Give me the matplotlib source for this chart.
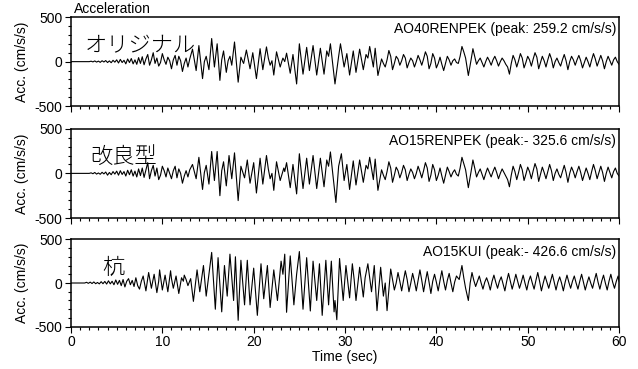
import matplotlib
matplotlib.use("Agg")
from matplotlib import pyplot as plt
from matplotlib.ticker import MultipleLocator

plt.rcParams['font.family'] = ['Liberation Sans', 'DejaVu Sans']

# Turning points of each record: (time s, acceleration cm/s/s)
orig_pts = [
    (0, 0), (2.0, 0), (2.2, 5), (2.4, -3), (2.6, 8), (2.8, -5), (3.0, 6), (3.2, -8), (3.4, 10),
    (3.6, -4), (3.8, 12), (4.0, -10), (4.2, 8), (4.4, -12), (4.6, 15), (4.8, -6), (5.0, 20),
    (5.2, -15), (5.4, 25), (5.6, -10), (5.8, 15), (6.0, -25), (6.2, 30), (6.4, -10), (6.6, 35),
    (6.8, -25), (7.0, 20), (7.2, -30), (7.4, 45), (7.6, -20), (7.8, 55), (8.0, -35), (8.2, 30),
    (8.4, 80), (8.6, -40), (8.8, 20), (9.0, 100), (9.2, -20), (9.4, 40), (9.6, -50), (9.8, -10),
    (10.0, 90), (10.2, 20), (10.4, -30), (10.6, 50), (10.8, 10), (11.0, -80), (11.2, 20),
    (11.4, 70), (11.6, -40), (11.8, 60), (12.0, 10), (12.2, -110), (12.4, -20), (12.6, 40),
    (12.8, -60), (13.0, 30), (13.3, 140), (13.7, -100), (14.0, 180), (14.4, -190), (14.6, 0),
    (14.8, 60), (15.1, -90), (15.4, 259), (15.7, -60), (16.0, 200), (16.3, -210), (16.5, 20),
    (16.7, 120), (17.0, -120), (17.2, 10), (17.4, 60), (17.6, -40), (17.9, 220), (18.3, -230),
    (18.6, 50), (18.8, 0), (18.9, -20), (19.2, 130), (19.6, -80), (19.9, 100), (20.3, -190),
    (20.7, 145), (21.0, -90), (21.4, 165), (21.6, 40), (21.8, -40), (22.0, 10), (22.2, -150),
    (22.5, 110), (22.9, -60), (23.1, 10), (23.2, 40), (23.4, 0), (23.6, 95), (24.0, -130),
    (24.3, 80), (24.7, -250), (25.0, 200), (25.4, -140), (25.8, 160), (26.1, -100), (26.5, 180),
    (26.9, -150), (27.3, 150), (27.7, -140), (28.0, 120), (28.2, 60), (28.4, 200), (28.9, -250),
    (29.3, 60), (29.5, 200), (29.9, -60), (30.2, 90), (30.5, -150), (30.9, 120), (31.2, -120),
    (31.6, 140), (32.0, -90), (32.3, 80), (32.5, 40), (32.7, 170), (33.1, -60), (33.3, 150),
    (33.6, -155), (34.0, 30), (34.2, -20), (34.4, -60), (34.6, 20), (34.8, 125), (35.0, 60),
    (35.2, -90), (35.4, -20), (35.6, 60), (35.8, 30), (36.0, -40), (36.2, 10), (36.4, 80),
    (36.6, 40), (36.8, -70), (37.0, -10), (37.2, 40), (37.4, 10), (37.6, -60), (37.8, 0),
    (38.0, 70), (38.2, 20), (38.4, -40), (38.6, 30), (38.8, 110), (39.0, 60), (39.2, -80),
    (39.4, -20), (39.6, 90), (39.8, 40), (40.0, -70), (40.2, -20), (40.4, 50), (40.6, -30),
    (40.8, -100), (41.0, -20), (41.2, 60), (41.4, 20), (41.6, -40), (41.8, 10), (42.0, 30),
    (42.2, -10), (42.4, -20), (42.6, 60), (42.8, 170), (43.0, 110), (43.2, 40), (43.5, -155),
    (43.8, 20), (44.0, 145), (44.2, 60), (44.4, -30), (44.6, 10), (44.8, 40), (45.0, -10),
    (45.2, -60), (45.4, 0), (45.6, 50), (45.8, 10), (46.0, -40), (46.2, 20), (46.4, 60),
    (46.6, 10), (46.8, -50), (47.0, 0), (47.2, 40), (47.4, 10), (47.6, -30), (47.8, -60),
    (48.0, -140), (48.2, -20), (48.4, 70), (48.6, 20), (48.8, -60), (49.0, 10), (49.2, 90),
    (49.4, 40), (49.6, -70), (49.8, -10), (50.0, 60), (50.2, 20), (50.4, -50), (50.6, 30),
    (50.8, 100), (51.0, 50), (51.2, -80), (51.4, -10), (51.6, 60), (51.8, 10), (52.0, -60),
    (52.2, 20), (52.4, 90), (52.6, 30), (52.8, -70), (53.0, 0), (53.2, 40), (53.4, -10),
    (53.6, -50), (53.8, 20), (54.0, 80), (54.2, 10), (54.4, -90), (54.6, 0), (54.8, 60),
    (55.0, 20), (55.2, -40), (55.4, 20), (55.6, 70), (55.8, 10), (56.0, -70), (56.2, -10),
    (56.4, 50), (56.6, 0), (56.8, -60), (57.0, 20), (57.2, 90), (57.4, 30), (57.6, -50),
    (57.8, 10), (58.0, 70), (58.2, 10), (58.4, -80), (58.6, 0), (58.8, 60), (59.0, 10),
    (59.2, -40), (59.4, 20), (59.6, 50), (59.8, 0), (60.0, -30)]

impr_pts = [
    (0, 0), (2.0, 0), (2.2, 6), (2.4, -4), (2.6, 10), (2.8, -8), (3.0, 5), (3.2, -10), (3.4, 12),
    (3.6, -6), (3.8, 15), (4.0, -20), (4.2, 10), (4.4, -15), (4.6, 20), (4.8, -8), (5.0, 25),
    (5.2, -20), (5.4, 30), (5.6, -12), (5.8, 20), (6.0, -30), (6.2, 35), (6.4, -15), (6.6, 40),
    (6.8, -30), (7.0, 25), (7.2, -40), (7.4, 50), (7.6, -25), (7.8, 60), (8.0, -45), (8.2, 40),
    (8.4, 120), (8.6, -60), (8.8, 30), (9.0, 90), (9.2, -30), (9.4, 60), (9.6, -70), (9.8, -20),
    (10.0, 80), (10.2, 30), (10.4, -40), (10.6, 60), (10.8, 0), (11.0, -60), (11.2, 30),
    (11.4, 80), (11.6, -50), (11.8, 50), (12.0, 0), (12.2, -110), (12.4, -30), (12.6, 30),
    (12.8, -40), (13.0, 40), (13.3, 100), (13.7, -60), (14.0, 180), (14.4, -180), (14.6, 10),
    (14.8, 90), (15.1, -120), (15.4, 245), (15.7, -80), (16.0, 245), (16.3, -250), (16.5, 30),
    (16.7, 130), (17.0, -140), (17.3, 200), (17.6, -60), (17.9, 230), (18.3, -305), (18.6, 80),
    (19.0, -50), (19.3, 150), (19.6, -110), (20.0, 120), (20.3, -220), (20.7, 170), (21.0, -120),
    (21.4, 200), (21.6, 50), (21.8, -60), (22.0, 0), (22.2, -190), (22.5, 130), (22.9, -80),
    (23.3, 60), (23.4, 20), (23.6, 120), (24.0, -160), (24.3, 100), (24.7, -230), (25.0, 220),
    (25.4, -170), (25.8, 170), (26.1, -120), (26.5, 200), (26.9, -170), (27.3, 170), (27.7, -150),
    (28.0, 150), (28.2, 80), (28.4, 240), (29.0, -326), (29.3, 80), (29.6, 220), (29.9, -80),
    (30.2, 100), (30.5, -180), (30.9, 140), (31.2, -130), (31.6, 150), (32.0, -100), (32.3, 90),
    (32.5, 50), (32.7, 180), (33.1, -70), (33.3, 160), (33.6, -190), (34.0, 40), (34.2, -20),
    (34.4, -70), (34.6, 20), (34.8, 130), (35.0, 60), (35.2, -100), (35.4, -20), (35.6, 70),
    (35.8, 30), (36.0, -50), (36.2, 10), (36.4, 90), (36.6, 40), (36.8, -80), (37.0, -10),
    (37.2, 50), (37.4, 10), (37.6, -60), (37.8, 0), (38.0, 80), (38.2, 20), (38.4, -50),
    (38.6, 30), (38.8, 120), (39.0, 60), (39.2, -90), (39.4, -20), (39.6, 100), (39.8, 40),
    (40.0, -80), (40.2, -20), (40.4, 60), (40.6, -30), (40.8, -110), (41.0, -20), (41.2, 70),
    (41.4, 20), (41.6, -40), (41.8, 10), (42.0, 40), (42.2, -10), (42.4, -30), (42.6, 60),
    (42.8, 180), (43.0, 110), (43.2, 40), (43.5, -160), (43.8, 20), (44.0, 150), (44.2, 60),
    (44.4, -40), (44.6, 10), (44.8, 50), (45.0, -10), (45.2, -70), (45.4, 0), (45.6, 60),
    (45.8, 10), (46.0, -40), (46.2, 20), (46.4, 70), (46.6, 10), (46.8, -60), (47.0, 0),
    (47.2, 50), (47.4, 10), (47.6, -30), (47.8, -70), (48.0, -150), (48.2, -20), (48.4, 80),
    (48.6, 20), (48.8, -70), (49.0, 10), (49.2, 100), (49.4, 40), (49.6, -80), (49.8, -10),
    (50.0, 70), (50.2, 20), (50.4, -60), (50.6, 30), (50.8, 110), (51.0, 50), (51.2, -90),
    (51.4, -10), (51.6, 70), (51.8, 10), (52.0, -60), (52.2, 20), (52.4, 100), (52.6, 30),
    (52.8, -80), (53.0, 0), (53.2, 50), (53.4, -10), (53.6, -50), (53.8, 20), (54.0, 90),
    (54.2, 10), (54.4, -100), (54.6, 0), (54.8, 70), (55.0, 20), (55.2, -50), (55.4, 20),
    (55.6, 80), (55.8, 10), (56.0, -80), (56.2, -10), (56.4, 60), (56.6, 0), (56.8, -70),
    (57.0, 20), (57.2, 100), (57.4, 30), (57.6, -60), (57.8, 10), (58.0, 80), (58.2, 10),
    (58.4, -90), (58.6, 0), (58.8, 70), (59.0, 10), (59.2, -50), (59.4, 20), (59.6, 60),
    (59.8, 0), (60.0, -30)]

pile_pts = [
    (0, 0), (1.5, 0), (1.7, 8), (1.9, -4), (2.1, 10), (2.3, -6), (2.5, 12), (2.7, -8), (2.9, 6),
    (3.1, -10), (3.3, 15), (3.5, -8), (3.7, 18), (3.9, -12), (4.1, 25), (4.3, -10), (4.5, 20),
    (4.7, -20), (4.9, 35), (5.1, -15), (5.3, 30), (5.5, -30), (5.7, 40), (5.9, -45), (6.1, 20),
    (6.3, 50), (6.5, -20), (6.7, 30), (6.9, -40), (7.1, 60), (7.3, -30), (7.5, -70), (7.7, 20),
    (7.9, 80), (8.1, -30), (8.2, -90), (8.5, 120), (8.7, 0), (8.8, -60), (9.1, 100), (9.4, -110),
    (9.6, 20), (9.7, 150), (10.0, -80), (10.2, 30), (10.3, 90), (10.6, -100), (10.9, 140),
    (11.0, 50), (11.2, -60), (11.5, 80), (11.8, -120), (12.1, 60), (12.3, 20), (12.4, 90),
    (12.6, 40), (12.8, -30), (13.1, 50), (13.4, -210), (13.8, 150), (14.1, -100), (14.5, 200),
    (14.8, -150), (15.1, 100), (15.4, 350), (15.8, -300), (16.1, 290), (16.5, -330), (16.8, 200),
    (17.1, -150), (17.4, 330), (17.8, -200), (18.0, 300), (18.3, -427), (18.6, 260),
    (19.0, -250), (19.3, 260), (19.6, -250), (20.0, 170), (20.4, -370), (20.8, 220), (21.1, -180),
    (21.5, 200), (21.8, -280), (22.2, 150), (22.6, -200), (23.0, 250), (23.2, 100), (23.4, 330),
    (23.6, -335), (24.0, 310), (24.4, -250), (24.7, 100), (25.0, 360), (25.4, -300), (25.8, 290),
    (26.2, -320), (26.5, 250), (26.9, -200), (27.2, 220), (27.5, -370), (27.9, 260), (28.2, -250),
    (28.5, 250), (28.8, -330), (28.9, -200), (29.1, -420), (29.4, 280), (29.8, -200), (30.1, 200),
    (30.3, 20), (30.5, -170), (30.8, 220), (31.0, 40), (31.2, -200), (31.6, 180), (32.0, -160),
    (32.2, 60), (32.5, 220), (32.9, -100), (33.2, 200), (33.5, -316), (33.9, 180), (34.2, -150),
    (34.4, 0), (34.6, -316), (35.0, 160), (35.2, 40), (35.4, -80), (35.6, 0), (35.8, 120),
    (36.0, 20), (36.2, -90), (36.4, 30), (36.6, 140), (36.8, 40), (37.0, -100), (37.2, 0),
    (37.4, 110), (37.6, 20), (37.8, -90), (38.0, 30), (38.2, 150), (38.4, 30), (38.6, -100),
    (38.8, 20), (39.0, 130), (39.2, 10), (39.4, -120), (39.6, 20), (39.8, 100), (40.0, 10),
    (40.2, -90), (40.4, 30), (40.6, 140), (40.8, 20), (41.0, -80), (41.2, 30), (41.4, 110),
    (41.6, 0), (41.8, -100), (42.0, 10), (42.2, 80), (42.5, 40), (42.8, 200), (43.0, 60),
    (43.2, -60), (43.5, -200), (43.7, 0), (43.9, 120), (44.1, 30), (44.3, -40), (44.5, 20),
    (44.7, 80), (44.9, 0), (45.1, -70), (45.3, 10), (45.5, 60), (45.7, 0), (45.9, -80),
    (46.1, 20), (46.3, 90), (46.5, 10), (46.7, -60), (46.9, 20), (47.1, 70), (47.3, -10),
    (47.5, -90), (47.7, 20), (47.9, 110), (48.1, 20), (48.3, -70), (48.5, 10), (48.7, 100),
    (48.9, 20), (49.1, -60), (49.3, 10), (49.5, 90), (49.7, 0), (49.9, -80), (50.1, 20),
    (50.3, 80), (50.5, 0), (50.7, -70), (50.9, 30), (51.1, 120), (51.3, 20), (51.5, -90),
    (51.7, 0), (51.9, 80), (52.1, 10), (52.3, -60), (52.5, 20), (52.7, 100), (52.9, 10),
    (53.1, -80), (53.3, 10), (53.5, 70), (53.7, 0), (53.9, -90), (54.1, 10), (54.3, 90),
    (54.5, 10), (54.7, -60), (54.9, 20), (55.1, 80), (55.3, 0), (55.5, -70), (55.7, 20),
    (55.9, 100), (56.1, 10), (56.3, -80), (56.5, 0), (56.7, 70), (56.9, 0), (57.1, -60),
    (57.3, 30), (57.5, 110), (57.7, 10), (57.9, -70), (58.1, 20), (58.3, 90), (58.5, 0),
    (58.7, -80), (58.9, 20), (59.1, 100), (59.3, 10), (59.5, -60), (59.7, 20), (59.9, 80),
    (60.0, 20)]

panel_names = ['オリジナル', '改良型', '杭']
record_labels = ['AO40RENPEK (peak: 259.2 cm/s/s)',
                 'AO15RENPEK (peak:- 325.6 cm/s/s)',
                 'AO15KUI (peak:- 426.6 cm/s/s)']
records = [orig_pts, impr_pts, pile_pts]

fig = plt.figure(figsize=(6.38, 3.69), dpi=100)
boxes = [(0.1113, 0.712, 0.859, 0.2419),
         (0.1113, 0.4092, 0.859, 0.2419),
         (0.1113, 0.1146, 0.859, 0.2369)]
name_pos = [(1.5, 175), (2.1, 185), (3.4, 177)]

for i, (box, pts) in enumerate(zip(boxes, records)):
    t, a = zip(*pts)
    ax = fig.add_axes(box)
    ax.plot(t, a, color='black', lw=0.8)
    ax.set_xlim(0, 60)
    ax.set_ylim(-500, 500)
    ax.set_yticks([-500, 0, 500])
    ax.set_yticklabels(['-500', '0', '500'])
    ax.yaxis.set_minor_locator(MultipleLocator(100))
    ax.xaxis.set_major_locator(MultipleLocator(10))
    ax.xaxis.set_minor_locator(MultipleLocator(1))
    ax.tick_params(which='major', direction='out', length=4, width=0.8, labelsize=10, pad=2)
    ax.tick_params(which='minor', direction='out', length=2.5, width=0.8)
    for s in ax.spines.values():
        s.set_linewidth(1.1)
    if i < 2:
        ax.set_xticklabels([])
    else:
        ax.set_xlabel('Time (sec)', fontsize=10, labelpad=1)
    ax.set_ylabel('Acc. (cm/s/s)', fontsize=10, labelpad=4)
    ax.text(59.7, 440, record_labels[i], ha='right', va='top', fontsize=10)
    ax.text(name_pos[i][0], name_pos[i][1], panel_names[i], ha='left', va='center',
            fontsize=16, fontweight='light', family=['Noto Sans CJK JP', 'DejaVu Sans'])
    if i == 0:
        ax.text(0.3, 515, 'Acceleration', ha='left', va='bottom', fontsize=10)

fig.savefig('out.png', dpi=100)
